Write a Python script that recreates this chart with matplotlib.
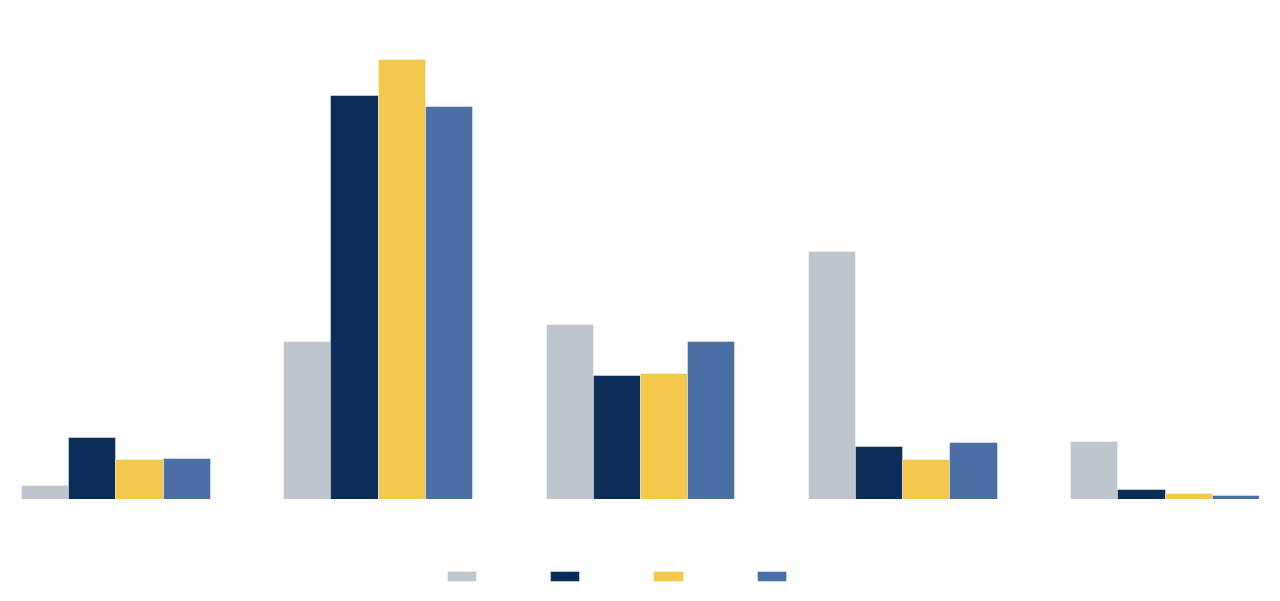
import matplotlib
matplotlib.use("Agg")
import matplotlib.pyplot as plt
import numpy as np

categories = ["Mycket bättre", "Bättre", "Oförändrat", "Sämre", "Mycket sämre"]
series_names = ["2023", "2024", "2025", "2026"]
v2023 = [2.1, 24.2, 26.7, 37.9, 8.9]
v2024 = [9.5, 61.7, 18.9, 8.1, 1.5]
v2025 = [6.1, 67.3, 19.3, 6.1, 0.9]
v2026 = [6.3, 60.1, 24.1, 8.7, 0.6]
colors = ["#BFC5CD", "#0C2D58", "#F3C84C", "#4A6FA5"]

series = [v2023, v2024, v2025, v2026]

fig = plt.figure(figsize=(12.8, 6.01), dpi=100)
W, H = 1280, 601
x0, x1 = 21, 1259
ybase, ytop = 499, 30
ax = fig.add_axes([x0 / W, (H - ybase) / H, (x1 - x0) / W, (ybase - ytop) / H])

n = len(series)
bw = 0.18
x = np.arange(len(categories))
for i, (vals, name, c) in enumerate(zip(series, series_names, colors)):
    pos = x + (i - (n - 1) / 2) * bw
    bars = ax.bar(pos, vals, width=bw, color=c, label=name,
                  edgecolor=(1, 1, 1, 0.5), linewidth=0.6)
    for b, v in zip(bars, vals):
        ax.text(b.get_x() + b.get_width() / 2, v + 1.2, f"{v:.1f}%",
                ha="center", va="bottom", color="white", fontsize=9)

ax.set_xlim(-0.36, len(categories) - 1 + 0.36)
ax.set_ylim(0, 71.7)
ax.set_xticks(x)
ax.set_xticklabels(categories, color="white", fontsize=11)
ax.tick_params(axis="x", length=0, pad=8)
ax.set_yticks([])
for s in ax.spines.values():
    s.set_visible(False)

leg = fig.legend(loc="center", bbox_to_anchor=(638 / W, (H - 577) / H), ncol=4,
                 frameon=False, handlelength=2.1, handleheight=0.65,
                 handletextpad=0.6, columnspacing=2.22, fontsize=10)
for t in leg.get_texts():
    t.set_color("white")

fig.savefig("out.png", dpi=100, facecolor="white")
